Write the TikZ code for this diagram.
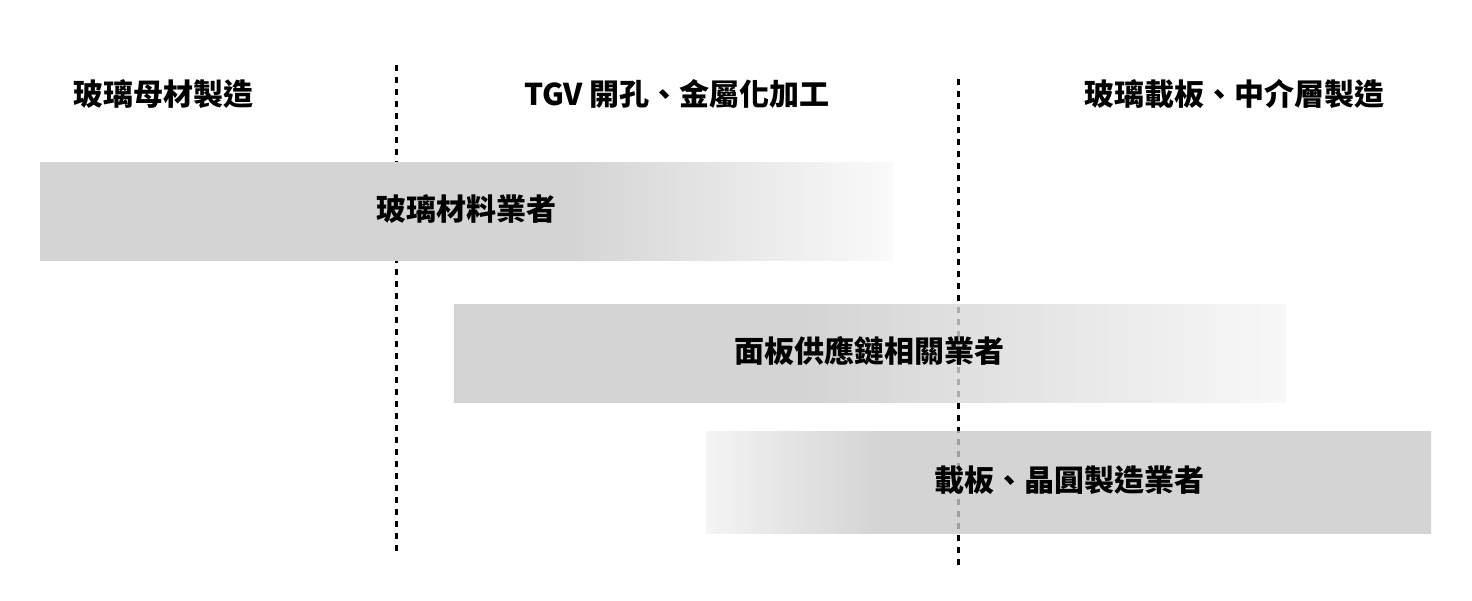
\documentclass[tikz,border=0pt]{standalone}
\usepackage{fontspec}
\setmainfont{Noto Sans CJK TC}
\definecolor{barsolid}{RGB}{212,212,212}
\definecolor{barsolidt}{RGB}{201,201,201}
\definecolor{barfadeone}{RGB}{250,250,250}
\definecolor{barfadetwo}{RGB}{246,246,246}
\definecolor{barfadethree}{RGB}{241,241,241}
\pgfdeclarehorizontalshading{barshadeone}{100bp}{color(0bp)=(barsolid); color(25bp)=(barsolid); color(56bp)=(barsolid); color(75bp)=(barfadeone); color(100bp)=(barfadeone)}
\pgfdeclarehorizontalshading{barshadetwo}{100bp}{color(0bp)=(barsolidt); color(25bp)=(barsolidt); color(45.8bp)=(barsolidt); color(75bp)=(barfadetwo); color(100bp)=(barfadetwo)}
\pgfdeclarehorizontalshading{barshadethree}{100bp}{color(0bp)=(barfadethree); color(25bp)=(barfadethree); color(37bp)=(barsolidt); color(75bp)=(barsolidt); color(100bp)=(barsolidt)}
\tikzset{
  lbl/.style={font=\fontsize{15pt}{16pt}\selectfont\bfseries, inner sep=0pt, text height=0.96em, text depth=0.04em, anchor=center},
  divider/.style={line width=1.5pt, dash pattern=on 3pt off 3pt, black},
  seethru/.style={fill opacity=0.8}
}
\begin{document}
\begin{tikzpicture}[x=0.5pt,y=-0.5pt]
\useasboundingbox (0,0) rectangle (1472,600);
% dividers
\coordinate (d1top) at (396,65);
\coordinate (d1bot) at (396,551);
\coordinate (d2top) at (958,79);
\coordinate (d2bot) at (958,566);
\draw[divider] (d1top) -- (d1bot);
\draw[divider] (d2top) -- (d2bot);
% bars
\shade[shading=barshadeone] (40,162) rectangle (893,260);
\shade[shading=barshadetwo, seethru] (454,304) rectangle (1286,402);
\shade[shading=barshadethree, seethru] (706,431) rectangle (1431,533);
% headers
\node[lbl] (h1) at (163.5,96) {玻璃母材製造};
\node[lbl] (h2) at (677,96) {TGV 開孔、金屬化加工};
\node[lbl] (h3) at (1234.5,96) {玻璃載板、中介層製造};
% bar labels
\node[lbl] (b1) at (466.5,211) {玻璃材料業者};
\node[lbl] (b2) at (869.5,353) {面板供應鏈相關業者};
\node[lbl] (b3) at (1069,482) {載板、晶圓製造業者};
\end{tikzpicture}
\end{document}
